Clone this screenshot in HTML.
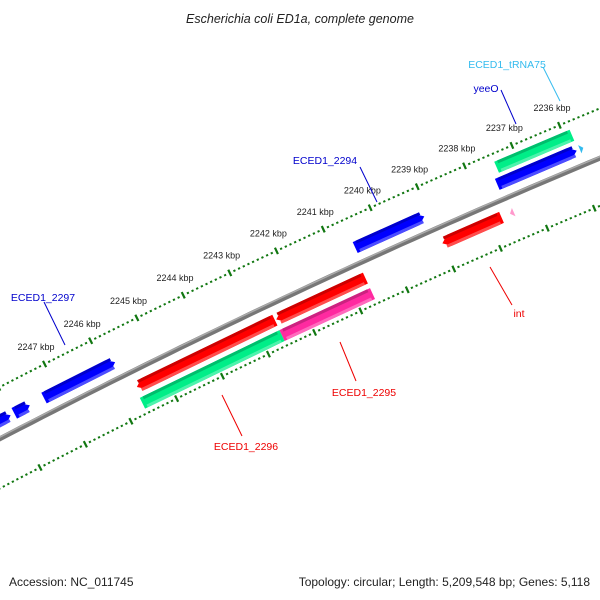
<!DOCTYPE html>
<html><head><meta charset="utf-8"><style>
html,body{margin:0;padding:0;background:#fff;}
svg{display:block;font-family:"Liberation Sans","DejaVu Sans",sans-serif;}
</style></head><body>
<svg id="map" width="600" height="600" viewBox="0 0 600 600">
<text x="300" y="23" text-anchor="middle" font-size="12.5" font-style="italic" fill="#222">Escherichia coli ED1a, complete genome</text>
<text x="9" y="586" font-size="12" fill="#222">Accession: NC_011745</text>
<text x="590" y="586" text-anchor="end" font-size="12" fill="#222">Topology: circular; Length: 5,209,548 bp; Genes: 5,118</text>
<g id="layer"></g>
</svg>
<script>
// data
const tickKbp = [2234,2235,2236,2237,2238,2239,2240,2241,2242,2243,2244,2245,2246,2247,2248,2249];
const labelKbp = [2236,2237,2238,2239,2240,2241,2242,2243,2244,2245,2246,2247];
const featNames = ["ECED1_tRNA75","yeeO","trna-green","ECED1_2294","int","int-pink","ECED1_2295","magenta-2295","ECED1_2296","green-2296","ECED1_2297","blue-small-1","blue-small-2"];
const featStart = [2235740,2235880,2235850,2239110,2237740,2237480,2240650,2240650,2242600,2242604,2245760,2247620,2248040];
const featEnd   = [2235815,2237560,2237440,2240585,2239000,2237560,2242570,2242604,2245595,2245640,2247310,2247960,2248400];
const featTrack = [1,1,2,1,-1,-1,-1,-2,-1,-2,1,1,1];
const featTip   = ["s","s","","s","e","e","e","","e","","s","s","s"];
const featColor = ["#33bbee","#0000ff","#00ee88","#0000ff","#ff0000","#ff99cc","#ff0000","#ff2aa0","#ff0000","#00ee88","#0000ff","#0000ff","#0000ff"];
const calloutText = ["ECED1_tRNA75","yeeO","ECED1_2294","int","ECED1_2295","ECED1_2296","ECED1_2297"];
const calloutColor = ["#33bbee","#0000cc","#0000cc","#ee0000","#ee0000","#ee0000","#0000cc"];
const calloutLine = [[560,101,543,67],[516,124,501,90],[377,202,360,167],[490,267,512,305],[340,342,356,381],[222,395,242,436],[65,345,44,302]];
const calloutPos = [[507,64],[486,88],[325,160],[519,313],[364,392],[246,446],[43,297]];

const NS="http://www.w3.org/2000/svg";
const layer=document.getElementById('layer');
const CX=3591, CY=7337, RB=7777, ROUT=7823, RIN=7733;
const phi0=Math.atan2(167-CY,465-CX);
const K=51.6/1000/ROUT;
function phi(bp){return phi0-(bp-2238000)*K;}
function pt(bp,r){const a=phi(bp);return [CX+r*Math.cos(a),CY+r*Math.sin(a)];}
function mk(tag,attrs){const e=document.createElementNS(NS,tag);for(const k in attrs)e.setAttribute(k,attrs[k]);layer.appendChild(e);return e;}
function P(a){return a.map(p=>p[0].toFixed(1)+','+p[1].toFixed(1)).join(' ');}

// backbone
let bb=[];for(let b=2233000;b<=2251000;b+=250)bb.push(pt(b,RB));
let e=mk('polyline',{points:P(bb),fill:'none',stroke:'#777','stroke-width':5});


let bb2=[];for(let b=2233000;b<=2251000;b+=250)bb2.push(pt(b,RB+1.5));
e=mk('polyline',{points:P(bb2),fill:'none',stroke:'#aaa','stroke-width':1.5});



// ticks
[ROUT,RIN].forEach((R,ri)=>{
 for(let b=tickKbp[0]*1000;b<=tickKbp[tickKbp.length-1]*1000;b+=100){
  const major=b%1000===0;
  const a=pt(b,R-(major?3.5:1)),c=pt(b,R+(major?3.5:1));
  const t=mk('line',{x1:a[0],y1:a[1],x2:c[0],y2:c[1],stroke:'#117711','stroke-width':2.2});
  
  
 }
});
labelKbp.forEach(k=>{
 const p=pt(k*1000,ROUT+19);
 const t=mk('text',{x:p[0],y:p[1]+3,'text-anchor':'middle','font-size':'9',fill:'#222'});
 t.textContent=k+' kbp';
 
 
});

// features
function shape(s,en,r,h,tip){
 const hl=150;let pts=[];
 const lo=r-h/2,hi=r+h/2;
 let a=s,b=en;
 if(tip==='s'){a=Math.min(s+hl,en);}
 if(tip==='e'){b=Math.max(en-hl,s);}
 pts.push(pt(a,hi),pt(b,hi));
 if(tip==='e')pts.push(pt(en,(lo+hi)/2));
 pts.push(pt(b,lo),pt(a,lo));
 if(tip==='s')pts.push(pt(s,(lo+hi)/2));
 return pts;
}
function shade(c,f){const n=parseInt(c.slice(1),16);let r=n>>16,g=(n>>8)&255,b=n&255;
 if(f<0){r*=1+f;g*=1+f;b*=1+f;}else{r+=(255-r)*f;g+=(255-g)*f;b+=(255-b)*f;}
 return 'rgb('+Math.round(r)+','+Math.round(g)+','+Math.round(b)+')';}
featNames.forEach((nm,i)=>{
 const r=RB+featTrack[i]*(Math.abs(featTrack[i])===1?16:33)/Math.abs(featTrack[i])*(Math.abs(featTrack[i])===1?1:1);
 const rr = featTrack[i]===1?RB+16:featTrack[i]===2?RB+32:featTrack[i]===-1?RB-16:RB-33;
 const h=(featEnd[i]-featStart[i]<200)?9:12;
 const g=document.createElementNS(NS,'g');layer.appendChild(g);
 
 
 const add=(pts,fill)=>{const p=document.createElementNS(NS,'polygon');p.setAttribute('points',P(pts));p.setAttribute('fill',fill);g.appendChild(p);};
 add(shape(featStart[i],featEnd[i],rr,h,featTip[i]),featColor[i]);
 if(h>10){
  add(shape(featStart[i]+60,featEnd[i]-60,rr+h/2-1.5,3,''),shade(featColor[i],-0.2));
  add(shape(featStart[i]+60,featEnd[i]-60,rr-h/2+1.5,3,''),shade(featColor[i],0.3));
 }
});

// callouts
calloutText.forEach((t,i)=>{
 const L=calloutLine[i];
 const l=mk('line',{x1:L[0],y1:L[1],x2:L[2],y2:L[3],stroke:calloutColor[i],'stroke-width':1});
 
 
 const p=calloutPos[i];
 const tx=mk('text',{x:p[0],y:p[1]+4,'text-anchor':'middle','font-size':'10.5',fill:calloutColor[i]});
 tx.textContent=t;
 
 
});
</script>
</body></html>
